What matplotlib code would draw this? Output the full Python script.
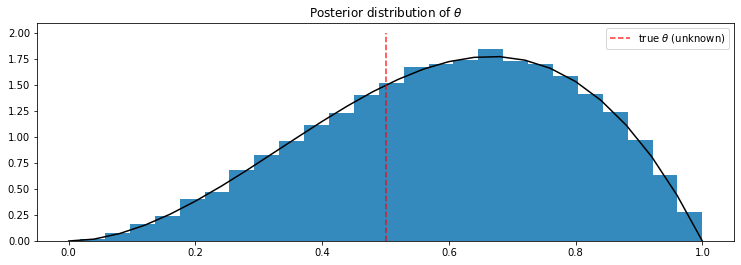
#!/usr/bin/env python3

import numpy as np
import matplotlib.pyplot as plt

# histogram of posterior samples (density per bin), 25 equal bins
bin_lo, bin_hi = 0.018, 1.0
densities = [0.02, 0.075, 0.165, 0.242, 0.407, 0.475, 0.688, 0.833, 0.959,
             1.114, 1.23, 1.405, 1.52, 1.673, 1.705, 1.744, 1.85, 1.73,
             1.705, 1.589, 1.415, 1.24, 0.969, 0.633, 0.281]

# posterior density curve
curve_x = [0.0, 0.04, 0.08, 0.12, 0.16, 0.20, 0.24, 0.28, 0.32, 0.36, 0.40,
           0.44, 0.48, 0.52, 0.56, 0.60, 0.64, 0.68, 0.72, 0.76, 0.80, 0.84,
           0.88, 0.92, 0.96, 1.0]
curve_y = [0.0, 0.018, 0.071, 0.152, 0.258, 0.384, 0.525, 0.677, 0.836, 0.995,
           1.152, 1.301, 1.438, 1.557, 1.656, 1.728, 1.769, 1.776, 1.742, 1.664,
           1.536, 1.355, 1.115, 0.813, 0.442, 0.0]

true_theta = 0.5
line_top = 2.0

fig = plt.figure(figsize=(741 / 72, 265 / 72), dpi=72)
ax = fig.add_axes([37 / 741, 24 / 265, 697 / 741, 218 / 265])

edges = np.linspace(bin_lo, bin_hi, len(densities) + 1)
centers = (edges[:-1] + edges[1:]) / 2
ax.hist(centers, bins=edges, weights=densities, color="#348ABD")

ax.plot(curve_x, curve_y, color="black", lw=1.5)
ax.vlines(true_theta, 0, line_top, colors="red", linestyles="--", alpha=0.8,
          lw=1.5, label=r"true $\theta$ (unknown)")

ax.set_xlim(-0.05, 1.05)
ax.set_ylim(0, 2.1)
ax.set_yticks(np.arange(0, 2.01, 0.25))
ax.set_title(r"Posterior distribution of $\theta$")
ax.legend(loc="upper right")

fig.savefig("out.png", dpi=72)
